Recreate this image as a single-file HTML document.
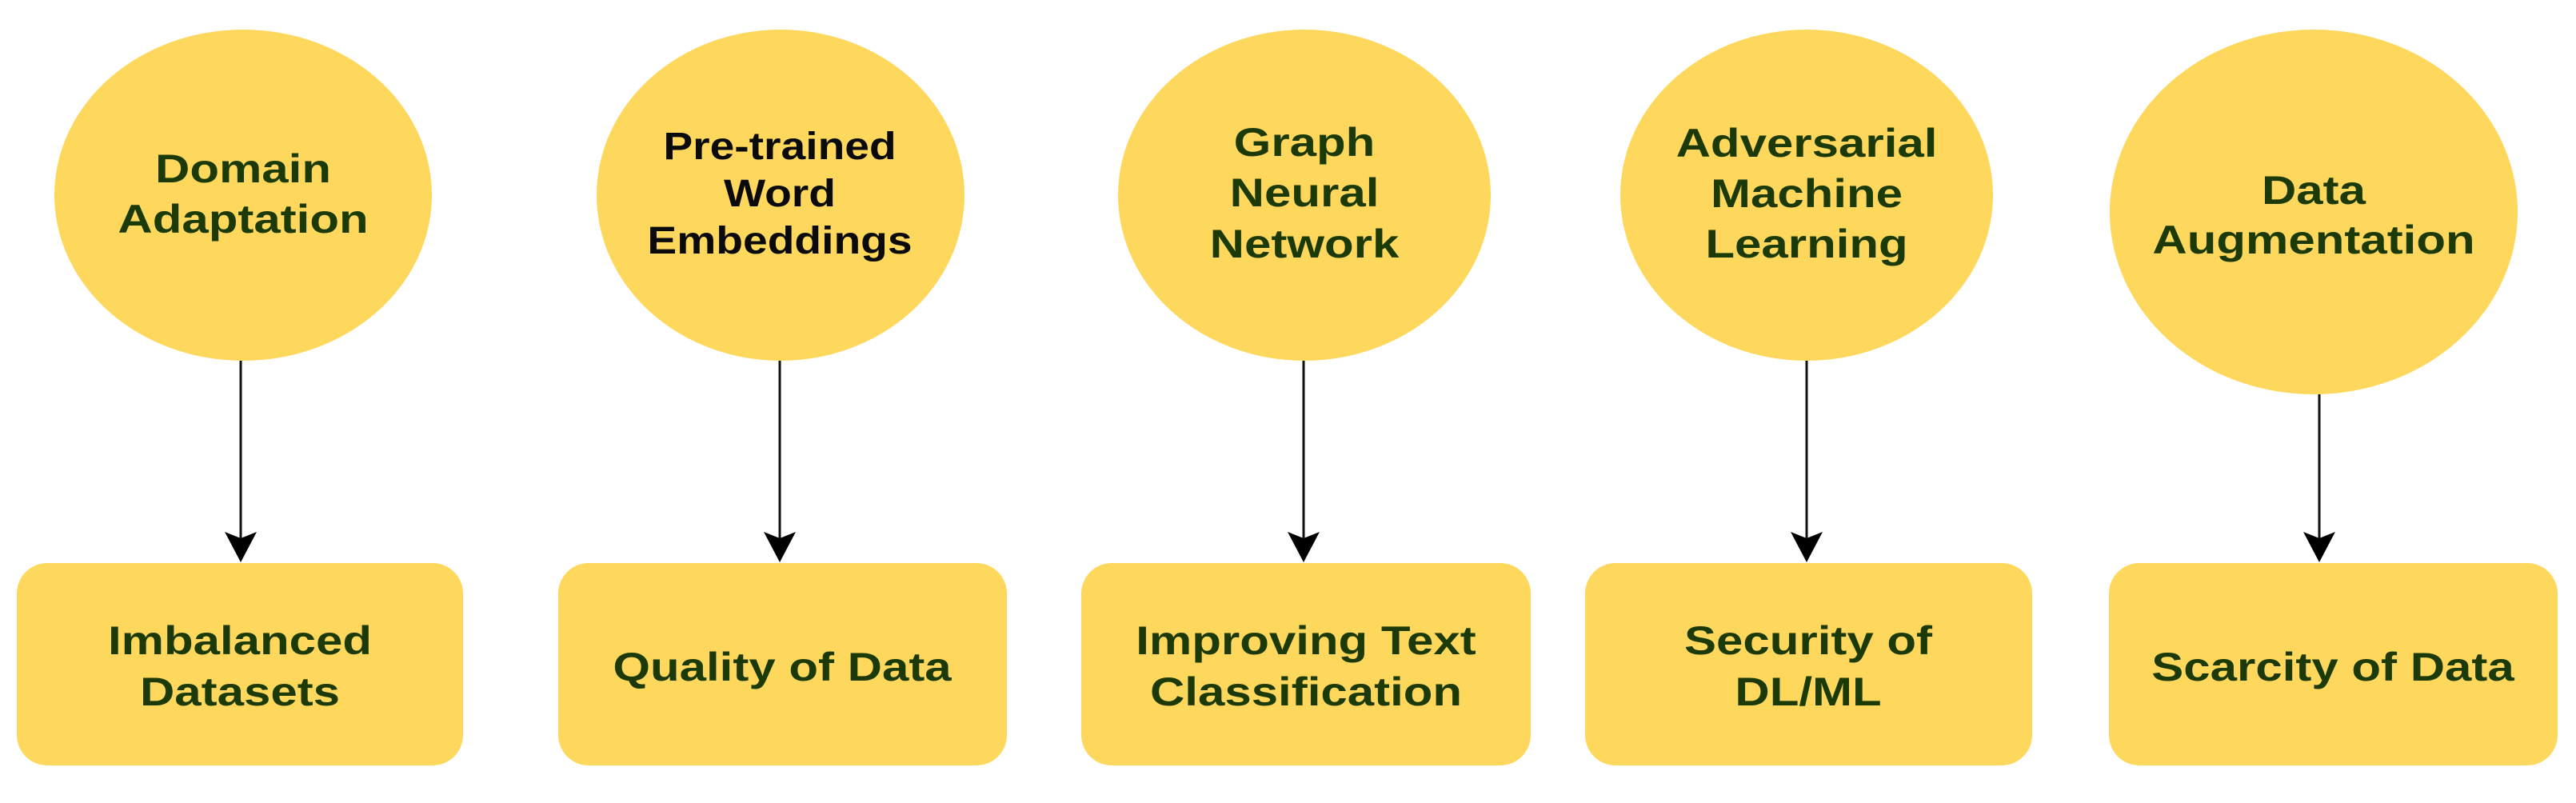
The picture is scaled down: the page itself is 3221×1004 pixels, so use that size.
<!DOCTYPE html>
<html><head><meta charset="utf-8"><style>
html,body{margin:0;padding:0;background:#fff;}
svg{display:block;}
text{font-family:"Liberation Sans",Arial,sans-serif;font-weight:bold;text-anchor:middle;}
.g{fill:#1c3a08;font-size:50px;}
.k{fill:#0a0a0a;font-size:48px;}
</style></head><body>
<svg width="3221" height="1004" viewBox="0 0 3221 1004" xmlns="http://www.w3.org/2000/svg">
<defs>
<marker id="ah" markerWidth="40" markerHeight="40" refX="20" refY="38" markerUnits="userSpaceOnUse" orient="auto">
</marker>
</defs>
<g fill="#fed85d">
<ellipse cx="304" cy="244" rx="236" ry="207"/>
<ellipse cx="976" cy="244" rx="230" ry="207"/>
<ellipse cx="1631" cy="244" rx="233" ry="207"/>
<ellipse cx="2259" cy="244" rx="233" ry="207"/>
<ellipse cx="2893" cy="265" rx="255" ry="228"/>
<rect x="21" y="704" width="558" height="253" rx="38"/>
<rect x="698" y="704" width="561" height="253" rx="38"/>
<rect x="1352" y="704" width="562" height="253" rx="38"/>
<rect x="1982" y="704" width="559" height="253" rx="38"/>
<rect x="2637" y="704" width="561" height="253" rx="38"/>
</g>
<g stroke="#111" stroke-width="3">
<line x1="301" y1="451" x2="301" y2="680"/>
<line x1="975" y1="451" x2="975" y2="680"/>
<line x1="1630" y1="451" x2="1630" y2="680"/>
<line x1="2259" y1="451" x2="2259" y2="680"/>
<line x1="2900" y1="493" x2="2900" y2="680"/>
</g>
<g fill="#000">
<path d="M281,665 L301,703 L321,665 L301,673 Z"/>
<path d="M955,665 L975,703 L995,665 L975,673 Z"/>
<path d="M1610,665 L1630,703 L1650,665 L1630,673 Z"/>
<path d="M2239,665 L2259,703 L2279,665 L2259,673 Z"/>
<path d="M2880,665 L2900,703 L2920,665 L2900,673 Z"/>
</g>
<!-- ellipse labels -->
<g transform="translate(304,0) scale(1.2,1)" class="g"><text x="0" y="228" class="g">Domain</text><text x="0" y="291" class="g">Adaptation</text></g>
<g transform="translate(975,0) scale(1.15,1)"><text x="0" y="199" class="k">Pre-trained</text><text x="0" y="258" class="k">Word</text><text x="0" y="317" class="k">Embeddings</text></g>
<g transform="translate(1631,0) scale(1.2,1)"><text x="0" y="195" class="g">Graph</text><text x="0" y="258" class="g">Neural</text><text x="0" y="322" class="g">Network</text></g>
<g transform="translate(2259,0) scale(1.2,1)"><text x="0" y="196" class="g">Adversarial</text><text x="0" y="259" class="g">Machine</text><text x="0" y="322" class="g">Learning</text></g>
<g transform="translate(2893,0) scale(1.2,1)"><text x="0" y="255" class="g">Data</text><text x="0" y="317" class="g">Augmentation</text></g>
<!-- box labels -->
<g transform="translate(300,0) scale(1.2,1)"><text x="0" y="818" class="g">Imbalanced</text><text x="0" y="882" class="g">Datasets</text></g>
<g transform="translate(978,0) scale(1.2,1)"><text x="0" y="851" class="g">Quality of Data</text></g>
<g transform="translate(1633,0) scale(1.2,1)"><text x="0" y="818" class="g">Improving Text</text><text x="0" y="882" class="g">Classification</text></g>
<g transform="translate(2261,0) scale(1.2,1)"><text x="0" y="818" class="g">Security of</text><text x="0" y="882" class="g">DL/ML</text></g>
<g transform="translate(2917,0) scale(1.2,1)"><text x="0" y="851" class="g">Scarcity of Data</text></g>
</svg>
</body></html>
